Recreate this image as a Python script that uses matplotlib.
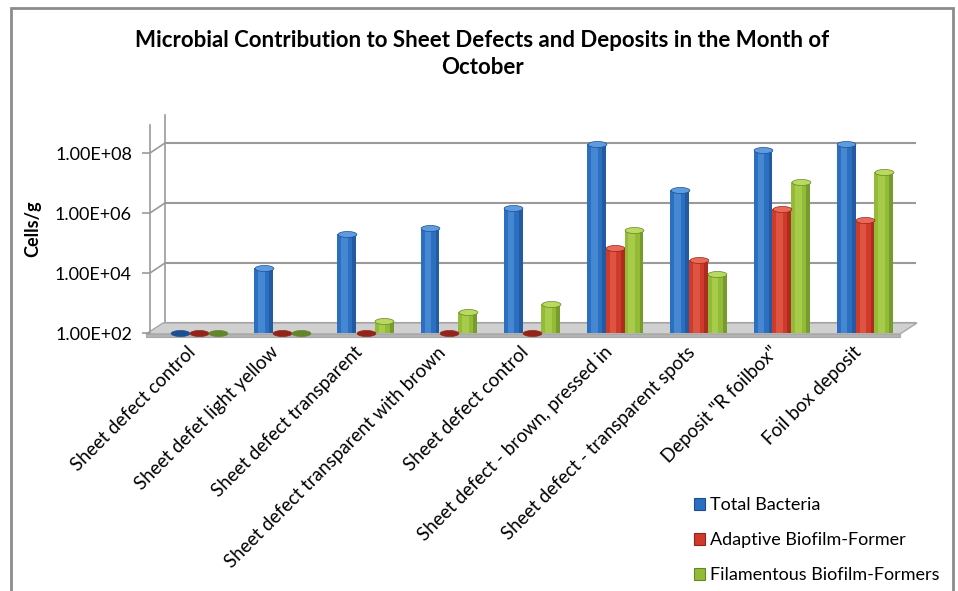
import numpy as np
import matplotlib
matplotlib.use("Agg")
import matplotlib.pyplot as plt
from matplotlib.patches import Polygon, Rectangle
from matplotlib.path import Path
from matplotlib.markers import MarkerStyle
from matplotlib.transforms import offset_copy, ScaledTranslation

plt.rcParams['font.family'] = ['Lato', 'DejaVu Sans']

categories = ["Sheet defect control", "Sheet defet light yellow", "Sheet defect transparent",
              "Sheet defect transparent with brown", "Sheet defect control",
              "Sheet defect - brown, pressed in", "Sheet defect - transparent spots",
              "Deposit \"R foilbox\"", "Foil box deposit"]
series_names = ["Total Bacteria", "Adaptive Biofilm-Former", "Filamentous Biofilm-Formers"]
total_bacteria = [1e2, 1.5e4, 2.0e5, 3.2e5, 1.5e6, 2.0e8, 5.8e6, 1.26e8, 2.0e8]
adaptive_biofilm = [1e2, 1e2, 1e2, 1e2, 1e2, 6.8e4, 2.7e4, 1.36e6, 5.8e5]
filamentous_biofilm = [1e2, 1e2, 2.5e2, 5.0e2, 9.3e2, 2.7e5, 9.0e3, 1.1e7, 2.3e7]
yticks = [1e2, 1e4, 1e6, 1e8]
ytick_labels = ["1.00E+02", "1.00E+04", "1.00E+06", "1.00E+08"]

colors = ["#2b6fc0", "#cf3a2a", "#93bb35"]
light = ["#5e9be0", "#ea6a58", "#b9da5e"]
dark = ["#1c4f8f", "#93241a", "#64862a"]

W, H = 958, 591
fig = plt.figure(figsize=(W / 100, H / 100), dpi=100)


def fx(x):
    return x / W


def fy(y):
    return 1 - y / H


ax = fig.add_axes([fx(150), fy(333), (900 - 150) / W, (333 - 125) / H])
ax.set_yscale("log")
ax.set_ylim(1e2, 10 ** (2 + 208 / 30))
ax.set_xlim(-0.589, 8.42)
ax.set_facecolor("none")

# outer chart frame
fig.add_artist(Rectangle((fx(11), -0.05), fx(953) - fx(11), fy(8) + 0.05,
                         transform=fig.transFigure, fill=False, ec="#8c8c8c", lw=2))

# back wall gridlines (3D look)
back = offset_copy(ax.transData, fig=fig, x=15, y=10, units="dots")
xl, xr = ax.get_xlim()
for v in yticks:
    ax.plot([xl, xr], [v, v], color="#9a9a9a", lw=1.5, transform=back, clip_on=False, zorder=0.3)
    ax.annotate("", xy=(xl, v), xytext=(15, 10), textcoords="offset pixels",
                arrowprops=dict(arrowstyle="-", color="#9a9a9a", lw=1.2, shrinkA=0, shrinkB=0),
                zorder=0.3)
ax.plot([xl, xl], [1e2, 10 ** 8.93], color="#9a9a9a", lw=1.2, transform=back, clip_on=False, zorder=0.3)

# floor
floor_top = [(fx(146), fy(334)), (fx(900), fy(334)), (fx(917), fy(323)), (fx(163), fy(323))]
floor_front = [(fx(146), fy(334)), (fx(900), fy(334)), (fx(900), fy(337)), (fx(146), fy(337))]
ax.add_patch(Polygon(floor_top, closed=True, transform=fig.transFigure, clip_on=False,
                     fc="#d0d0d0", ec="#a8a8a8", lw=1, zorder=0.5))
ax.add_patch(Polygon(floor_front, closed=True, transform=fig.transFigure, clip_on=False,
                     fc="#b4b4b4", ec="#a8a8a8", lw=0.8, zorder=0.5))

# bars as cylinders
x = np.arange(len(categories))
w = 0.225
t = np.linspace(0, 2 * np.pi, 60)
ellipse = MarkerStyle(Path(np.column_stack([np.cos(t), 0.32 * np.sin(t)]), closed=True))
cap_size = w * (750 / 9.009) * 0.72

for i, vals in enumerate([total_bacteria, adaptive_biofilm, filamentous_biofilm]):
    vals = np.array(vals)
    xs = x + (i - 1) * w
    h = vals - 1e2
    ax.bar(xs, h, width=w, bottom=1e2, color=colors[i], edgecolor="none", zorder=2)
    ax.bar(xs - 0.12 * w, h, width=0.35 * w, bottom=1e2, color=light[i], alpha=0.55,
           edgecolor="none", zorder=2.1)
    ax.bar(xs + 0.4 * w, h, width=0.2 * w, bottom=1e2, color=dark[i], alpha=0.6,
           edgecolor="none", zorder=2.1)
    cap = [dark[i] if v <= 1e2 else light[i] for v in vals]
    for xi, v, c in zip(xs, vals, cap):
        ax.plot(xi, v, marker=ellipse, markersize=cap_size, color=c,
                markeredgecolor=dark[i], markeredgewidth=0.5, zorder=3, clip_on=False)

ax.set_yticks(yticks)
ax.set_yticklabels(ytick_labels, fontsize=13)
ax.yaxis.set_minor_locator(matplotlib.ticker.NullLocator())
ax.tick_params(axis="y", length=6, color="#9a9a9a", width=1.2, pad=7)
ax.set_xticks(x)
ax.set_xticklabels(categories, rotation=45, ha="right", va="center", rotation_mode="anchor", fontsize=13.5)
ax.tick_params(axis="x", length=0, pad=12)
shift = ScaledTranslation(-6 / 100, 0, fig.dpi_scale_trans)
for lab in ax.get_xticklabels():
    lab.set_transform(lab.get_transform() + shift)
for s in ["top", "right", "bottom"]:
    ax.spines[s].set_visible(False)
ax.spines["left"].set_color("#9a9a9a")
ax.spines["left"].set_linewidth(1.2)

ax.set_ylabel("Cells/g", fontsize=13, fontweight="bold", labelpad=10)

fig.text(fx(482), fy(54), "Microbial Contribution to Sheet Defects and Deposits in the Month of\nOctober",
         ha="center", va="center", fontsize=16, fontweight="bold", linespacing=1.35)

handles = [Rectangle((0, 0), 1, 1, fc=c, ec=d, lw=0.8) for c, d in zip(colors, dark)]
fig.legend(handles, series_names, loc="upper left", bbox_to_anchor=(fx(687), fy(490)),
           frameon=False, fontsize=13, handlelength=0.6, handleheight=0.6,
           handletextpad=0.3, labelspacing=1.05, borderaxespad=0)

fig.savefig("out.png", dpi=100)
